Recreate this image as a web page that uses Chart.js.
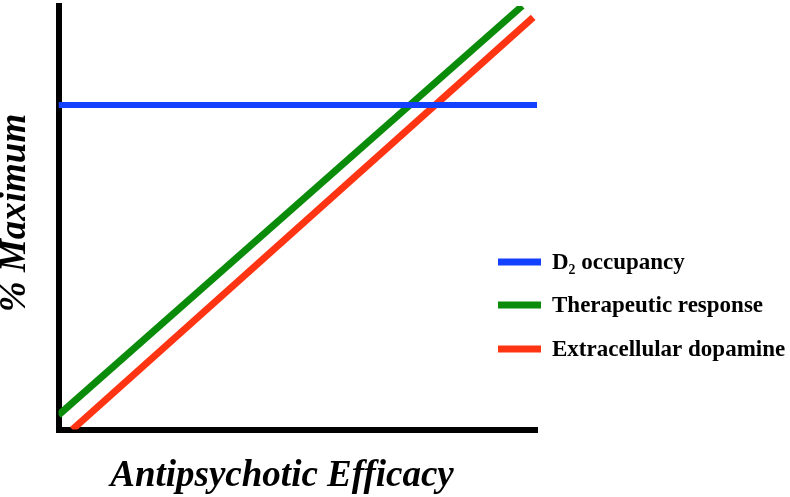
<!DOCTYPE html>
<html>
<head>
<meta charset="utf-8">
<script src="https://cdn.jsdelivr.net/npm/chart.js@4.4.1/dist/chart.umd.min.js"></script>
<style>
    html, body { margin: 0; padding: 0; background: #fff; }
    #wrap { width: 790px; height: 497px; }
</style>
</head>
<body>
<div id="wrap"><canvas id="chart"></canvas></div>
<script>
// Series labels and colours (legend order)
const seriesLabels = ['D\u2082 occupancy', 'Therapeutic response', 'Extracellular dopamine'];
const seriesColors = ['#1440ff', '#0a8c0a', '#ff3412'];

// Values (% of axis range)
const occupancyX = [0, 100];
const occupancyY = [76.6, 76.6];
const responseX = [0, 96.9];
const responseY = [3.4, 100];
const dopamineX = [2.9, 99.2];
const dopamineY = [0, 97.3];

const xTitle = 'Antipsychotic Efficacy';
const yTitle = '% Maximum';

function toPoints(xs, ys) {
    return xs.map((x, i) => ({ x: x, y: ys[i] }));
}

// Legend drawn inside the plot area, plus the two axis titles
const annotate = {
    id: 'annotate',
    afterDraw(chart) {
        const ctx = chart.ctx;
        ctx.save();
        // legend
        const rows = [262, 305, 349];
        ctx.lineWidth = 7;
        ctx.textBaseline = 'middle';
        ctx.textAlign = 'left';
        ctx.font = 'bold 23px "Liberation Serif", "Times New Roman", serif';
        chart.data.datasets.forEach((ds, i) => {
            ctx.strokeStyle = ds.borderColor;
            ctx.beginPath();
            ctx.moveTo(498, rows[i]);
            ctx.lineTo(541, rows[i]);
            ctx.stroke();
            ctx.fillStyle = '#000';
            ctx.fillText(ds.label, 552, rows[i] + 1);
        });
        // axis titles
        ctx.font = 'italic bold 37px "Liberation Serif", "Times New Roman", serif';
        ctx.textAlign = 'center';
        ctx.fillText(xTitle, 282, 476);
        ctx.translate(15, 213);
        ctx.rotate(-Math.PI / 2);
        ctx.fillText(yTitle, 0, 0);
        ctx.restore();
    }
};

const datasets = [
    toPoints(occupancyX, occupancyY),
    toPoints(responseX, responseY),
    toPoints(dopamineX, dopamineY)
].map((pts, i) => ({
    label: seriesLabels[i],
    data: pts,
    borderColor: seriesColors[i],
    backgroundColor: seriesColors[i],
    borderWidth: i === 0 ? 6 : 7,
    borderCapStyle: 'butt',
    pointRadius: 0,
    tension: 0,
    fill: false
}));

const axisOpts = {
    type: 'linear',
    min: 0,
    max: 100,
    ticks: { display: false },
    grid: { display: false, drawTicks: false },
    border: { display: true, color: '#000', width: 6 },
    title: { display: false }
};

new Chart(document.getElementById('chart'), {
    type: 'line',
    data: { datasets: datasets },
    options: {
        responsive: true,
        maintainAspectRatio: false,
        animation: false,
        layout: { padding: { left: 58.5, right: 253, top: 6, bottom: 67.5 } },
        plugins: {
            legend: { display: false },
            tooltip: { enabled: false }
        },
        scales: {
            x: Object.assign({ position: 'bottom' }, axisOpts),
            y: Object.assign({ position: 'left' }, axisOpts)
        }
    },
    plugins: [annotate]
});
</script>
</body>
</html>
